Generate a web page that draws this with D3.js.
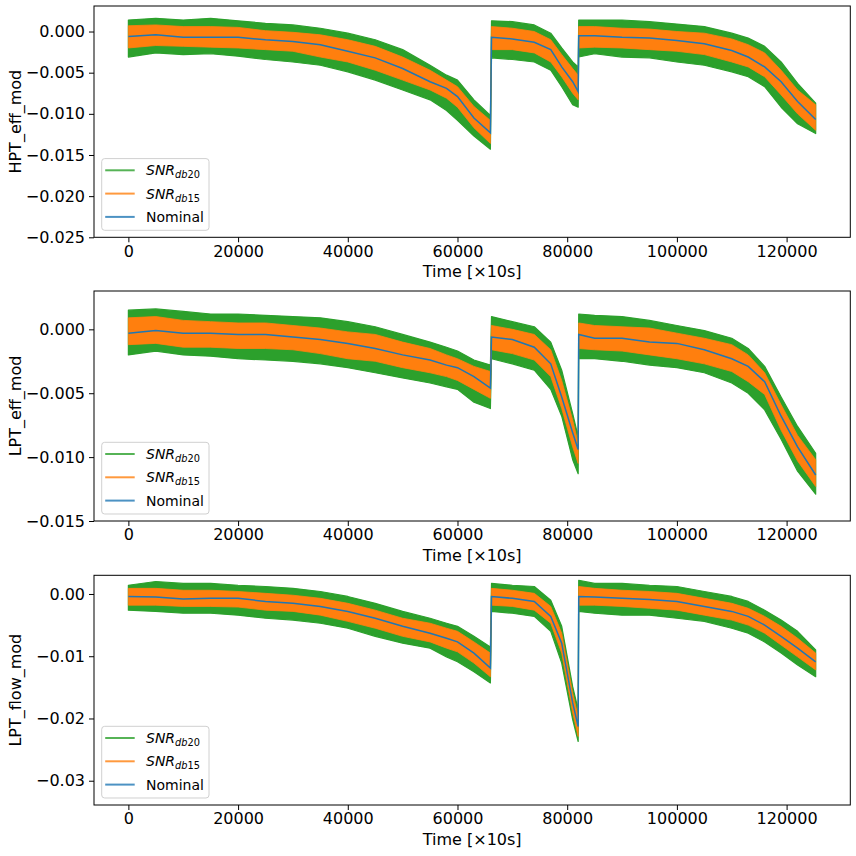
<!DOCTYPE html>
<html>
<head>
<meta charset="utf-8">
<script src="https://cdn.jsdelivr.net/npm/d3@7"></script>
<style>
  body { margin: 0; background: #fff; }
  svg { font-family: "DejaVu Sans", sans-serif; }
</style>
</head>
<body>
<div id="container"></div>
<script>
// time samples (x10s), shared by all three panels
let time = [0, 5000, 10000, 15000, 20000, 25000, 30000, 35000, 40000, 45000, 50000, 55000, 58000, 60000, 63000, 66000,
  66200, 70000, 74000, 77000, 79000, 81000, 82000,
  82100, 85000, 90000, 95000, 100000, 105000, 110000, 113000, 116000, 119000, 122000, 125300];

// HPT_eff_mod
let hptGreenHi = [0.0014, 0.0016, 0.0014, 0.0016, 0.0013, 0.0010, 0.0008, 0.0004, -0.0002, -0.0010, -0.0022, -0.0041, -0.0053, -0.0059, -0.0083, -0.0102,
  0.0013, 0.0012, 0.0008, -0.0002, -0.0020, -0.0037, -0.0043,
  0.0014, 0.0014, 0.0014, 0.0012, 0.0009, 0.0006, -0.0002, -0.0008, -0.0018, -0.0037, -0.0063, -0.0087];
let hptOrangeHi = [0.0007, 0.0008, 0.0006, 0.0006, 0.0005, 0.0001, -0.0001, -0.0004, -0.0010, -0.0018, -0.0031, -0.0047, -0.0059, -0.0067, -0.0091, -0.0108,
  0.0006, 0.0004, 0.0000, -0.0010, -0.0028, -0.0045, -0.0053,
  0.0006, 0.0006, 0.0004, 0.0003, 0.0000, -0.0002, -0.0009, -0.0016, -0.0026, -0.0047, -0.0071, -0.0089];
let hptNominal = [-0.0006, -0.0004, -0.0007, -0.0007, -0.0007, -0.0010, -0.0012, -0.0016, -0.0024, -0.0032, -0.0045, -0.0061, -0.0069, -0.0079, -0.0105, -0.0123,
  -0.0007, -0.0009, -0.0013, -0.0022, -0.0043, -0.0061, -0.0073,
  -0.0005, -0.0005, -0.0007, -0.0008, -0.0011, -0.0015, -0.0023, -0.0031, -0.0043, -0.0061, -0.0085, -0.0107];
let hptOrangeLo = [-0.0020, -0.0017, -0.0018, -0.0019, -0.0020, -0.0022, -0.0024, -0.0031, -0.0037, -0.0047, -0.0059, -0.0071, -0.0081, -0.0092, -0.0117, -0.0136,
  -0.0022, -0.0022, -0.0026, -0.0037, -0.0055, -0.0075, -0.0083,
  -0.0020, -0.0019, -0.0020, -0.0022, -0.0024, -0.0028, -0.0037, -0.0043, -0.0055, -0.0077, -0.0100, -0.0120];
let hptGreenLo = [-0.0031, -0.0026, -0.0028, -0.0027, -0.0030, -0.0034, -0.0037, -0.0041, -0.0049, -0.0059, -0.0071, -0.0083, -0.0096, -0.0108, -0.0127, -0.0143,
  -0.0032, -0.0034, -0.0037, -0.0047, -0.0067, -0.0089, -0.0092,
  -0.0031, -0.0027, -0.0031, -0.0032, -0.0037, -0.0041, -0.0049, -0.0055, -0.0067, -0.0092, -0.0112, -0.0124];

// LPT_eff_mod
let lptGreenHi = [0.0015, 0.0016, 0.0014, 0.0012, 0.0012, 0.0011, 0.0010, 0.0009, 0.0006, 0.0002, -0.0004, -0.0010, -0.0014, -0.0017, -0.0024, -0.0028,
  0.0010, 0.0006, 0.0002, -0.0010, -0.0032, -0.0066, -0.0084,
  0.0012, 0.0011, 0.0010, 0.0007, 0.0003, -0.0001, -0.0007, -0.0015, -0.0029, -0.0053, -0.0076, -0.0097];
let lptOrangeHi = [0.0009, 0.0010, 0.0007, 0.0006, 0.0005, 0.0005, 0.0003, 0.0001, -0.0002, -0.0004, -0.0010, -0.0015, -0.0020, -0.0023, -0.0029, -0.0033,
  0.0003, 0.0000, -0.0004, -0.0016, -0.0040, -0.0071, -0.0089,
  0.0005, 0.0003, 0.0002, 0.0001, -0.0003, -0.0007, -0.0012, -0.0020, -0.0034, -0.0059, -0.0083, -0.0102];
let lptNominal = [-0.0003, -0.0001, -0.0003, -0.0003, -0.0004, -0.0004, -0.0006, -0.0008, -0.0011, -0.0015, -0.0020, -0.0024, -0.0028, -0.0030, -0.0037, -0.0046,
  -0.0006, -0.0008, -0.0014, -0.0027, -0.0053, -0.0081, -0.0094,
  -0.0004, -0.0007, -0.0007, -0.0010, -0.0011, -0.0016, -0.0023, -0.0029, -0.0041, -0.0068, -0.0092, -0.0114];
let lptOrangeLo = [-0.0012, -0.0011, -0.0014, -0.0014, -0.0015, -0.0015, -0.0016, -0.0019, -0.0023, -0.0025, -0.0030, -0.0034, -0.0037, -0.0040, -0.0047, -0.0054,
  -0.0016, -0.0019, -0.0024, -0.0037, -0.0062, -0.0092, -0.0105,
  -0.0015, -0.0016, -0.0017, -0.0020, -0.0023, -0.0027, -0.0033, -0.0041, -0.0051, -0.0079, -0.0103, -0.0123];
let lptGreenLo = [-0.0020, -0.0017, -0.0020, -0.0021, -0.0023, -0.0024, -0.0025, -0.0027, -0.0030, -0.0034, -0.0038, -0.0042, -0.0045, -0.0047, -0.0057, -0.0062,
  -0.0023, -0.0027, -0.0032, -0.0047, -0.0068, -0.0102, -0.0113,
  -0.0023, -0.0023, -0.0025, -0.0028, -0.0030, -0.0034, -0.0042, -0.0050, -0.0063, -0.0086, -0.0111, -0.0129];

// LPT_flow_mod
let flowGreenHi = [0.0014, 0.0020, 0.0017, 0.0017, 0.0014, 0.0012, 0.0009, 0.0004, -0.0004, -0.0015, -0.0028, -0.0039, -0.0047, -0.0052, -0.0068, -0.0085,
  0.0017, 0.0014, 0.0012, -0.0010, -0.0052, -0.0149, -0.0186,
  0.0022, 0.0017, 0.0017, 0.0014, 0.0012, 0.0004, -0.0004, -0.0012, -0.0026, -0.0042, -0.0060, -0.0090];
let flowOrangeHi = [0.0009, 0.0009, 0.0006, 0.0006, 0.0004, 0.0001, -0.0002, -0.0007, -0.0015, -0.0026, -0.0039, -0.0047, -0.0055, -0.0060, -0.0077, -0.0095,
  0.0009, 0.0006, 0.0001, -0.0020, -0.0063, -0.0159, -0.0197,
  0.0012, 0.0009, 0.0006, 0.0004, 0.0001, -0.0007, -0.0015, -0.0023, -0.0036, -0.0052, -0.0071, -0.0095];
let flowNominal = [-0.0004, -0.0005, -0.0008, -0.0007, -0.0007, -0.0012, -0.0015, -0.0020, -0.0028, -0.0039, -0.0052, -0.0063, -0.0071, -0.0077, -0.0095, -0.0119,
  -0.0004, -0.0007, -0.0012, -0.0036, -0.0079, -0.0175, -0.0213,
  -0.0004, -0.0005, -0.0007, -0.0009, -0.0012, -0.0020, -0.0028, -0.0036, -0.0050, -0.0068, -0.0087, -0.0109];
let flowOrangeLo = [-0.0018, -0.0018, -0.0020, -0.0020, -0.0021, -0.0026, -0.0028, -0.0034, -0.0044, -0.0055, -0.0068, -0.0077, -0.0087, -0.0093, -0.0111, -0.0133,
  -0.0018, -0.0020, -0.0026, -0.0047, -0.0095, -0.0191, -0.0229,
  -0.0018, -0.0018, -0.0020, -0.0023, -0.0026, -0.0034, -0.0042, -0.0050, -0.0063, -0.0082, -0.0101, -0.0122];
let flowGreenLo = [-0.0026, -0.0028, -0.0031, -0.0031, -0.0034, -0.0039, -0.0042, -0.0047, -0.0055, -0.0068, -0.0079, -0.0087, -0.0101, -0.0109, -0.0125, -0.0143,
  -0.0028, -0.0031, -0.0036, -0.0060, -0.0111, -0.0202, -0.0237,
  -0.0028, -0.0031, -0.0034, -0.0034, -0.0039, -0.0044, -0.0055, -0.0063, -0.0077, -0.0095, -0.0114, -0.0133];

let xTicks = [0, 20000, 40000, 60000, 80000, 100000, 120000];

let panels = [
  { label: "HPT_eff_mod", top: 6, bottom: 237.3, domain: [-0.025, 0.0031], ticks: [0, -0.005, -0.010, -0.015, -0.020, -0.025], fmt: ".3f",
    gHi: hptGreenHi, oHi: hptOrangeHi, nom: hptNominal, oLo: hptOrangeLo, gLo: hptGreenLo },
  { label: "LPT_eff_mod", top: 291, bottom: 521, domain: [-0.015, 0.003], ticks: [0, -0.005, -0.010, -0.015], fmt: ".3f",
    gHi: lptGreenHi, oHi: lptOrangeHi, nom: lptNominal, oLo: lptOrangeLo, gLo: lptGreenLo },
  { label: "LPT_flow_mod", top: 575.3, bottom: 805, domain: [-0.0339, 0.003], ticks: [0, -0.01, -0.02, -0.03], fmt: ".2f",
    gHi: flowGreenHi, oHi: flowOrangeHi, nom: flowNominal, oLo: flowOrangeLo, gLo: flowGreenLo }
];

let w = 856;
let h = 856;
let left = 94, right = 850.3;
let green = "#2ca02c", orange = "#ff7f0e", blue = "#1f77b4";

let viz = d3.select("#container")
  .append("svg")
    .attr("width", w)
    .attr("height", h)
    .style("background-color", "#fff");

let x = d3.scaleLinear().domain([-6267, 131612]).range([left, right]);

panels.forEach(function(p){
  let y = d3.scaleLinear().domain(p.domain).range([p.bottom, p.top]);
  let rows = time.map(function(t, i){
    return { t: t, gHi: p.gHi[i], oHi: p.oHi[i], nom: p.nom[i], oLo: p.oLo[i], gLo: p.gLo[i] };
  });

  let g = viz.append("g");

  let greenArea = d3.area().x(d => x(d.t)).y0(d => y(d.gLo)).y1(d => y(d.gHi));
  let orangeArea = d3.area().x(d => x(d.t)).y0(d => y(d.oLo)).y1(d => y(d.oHi));
  let nomLine = d3.line().x(d => x(d.t)).y(d => y(d.nom));

  g.append("path").datum(rows).attr("d", greenArea)
    .attr("fill", green).attr("stroke", green).attr("stroke-width", 1.2).attr("stroke-linejoin", "round");
  g.append("path").datum(rows).attr("d", orangeArea)
    .attr("fill", orange).attr("stroke", orange).attr("stroke-width", 0.8);
  g.append("path").datum(rows).attr("d", nomLine)
    .attr("fill", "none").attr("stroke", blue).attr("stroke-width", 1.5);

  // axes
  let xAxis = d3.axisBottom(x).tickValues(xTicks).tickFormat(d3.format("d")).tickSize(5).tickPadding(3);
  let yAxis = d3.axisLeft(y).tickValues(p.ticks).tickFormat(d3.format(p.fmt)).tickSize(5).tickPadding(4);

  let gx = g.append("g").attr("transform", "translate(0," + p.bottom + ")").call(xAxis);
  let gy = g.append("g").attr("transform", "translate(" + left + ",0)").call(yAxis);
  [gx, gy].forEach(function(a){
    a.select(".domain").remove();
    a.selectAll("text").attr("font-size", 16).attr("font-family", "DejaVu Sans").attr("fill", "#000");
    a.selectAll("line").attr("stroke", "#000").attr("stroke-width", 1);
  });

  g.append("rect")
    .attr("x", left).attr("y", p.top)
    .attr("width", right - left).attr("height", p.bottom - p.top)
    .attr("fill", "none").attr("stroke", "#000").attr("stroke-width", 1);

  g.append("text")
    .attr("x", (left + right) / 2).attr("y", p.bottom + 40)
    .attr("text-anchor", "middle").attr("font-size", 16)
    .text("Time [×10s]");

  g.append("text")
    .attr("transform", "translate(21," + (p.top + p.bottom) / 2 + ") rotate(-90)")
    .attr("text-anchor", "middle").attr("font-size", 16)
    .text(p.label);

  // legend
  let lg = g.append("g").attr("transform", "translate(101.7," + (p.bottom - 7 - 71.7) + ")");
  lg.append("rect").attr("width", 107.3).attr("height", 71.7).attr("rx", 3)
    .attr("fill", "#fff").attr("fill-opacity", 0.8).attr("stroke", "#d0d0d0").attr("stroke-width", 1);
  let items = [
    { c: green, sub: "20" },
    { c: orange, sub: "15" },
    { c: blue, sub: null }
  ];
  items.forEach(function(it, i){
    let yy = 11.7 + i * 23.3;
    lg.append("line").attr("x1", 3.5).attr("x2", 33).attr("y1", yy).attr("y2", yy)
      .attr("stroke", it.c).attr("stroke-width", 2).attr("stroke-opacity", 0.8);
    let t = lg.append("text").attr("x", 44.3).attr("y", yy + 5).attr("font-size", 14);
    if(it.sub){
      t.append("tspan").attr("font-style", "italic").text("SNR");
      t.append("tspan").attr("font-style", "italic").attr("font-size", 9.8).attr("dy", 3).text("db");
      t.append("tspan").attr("font-size", 9.8).text(it.sub);
    } else {
      t.text("Nominal");
    }
  });
});
</script>
</body>
</html>
